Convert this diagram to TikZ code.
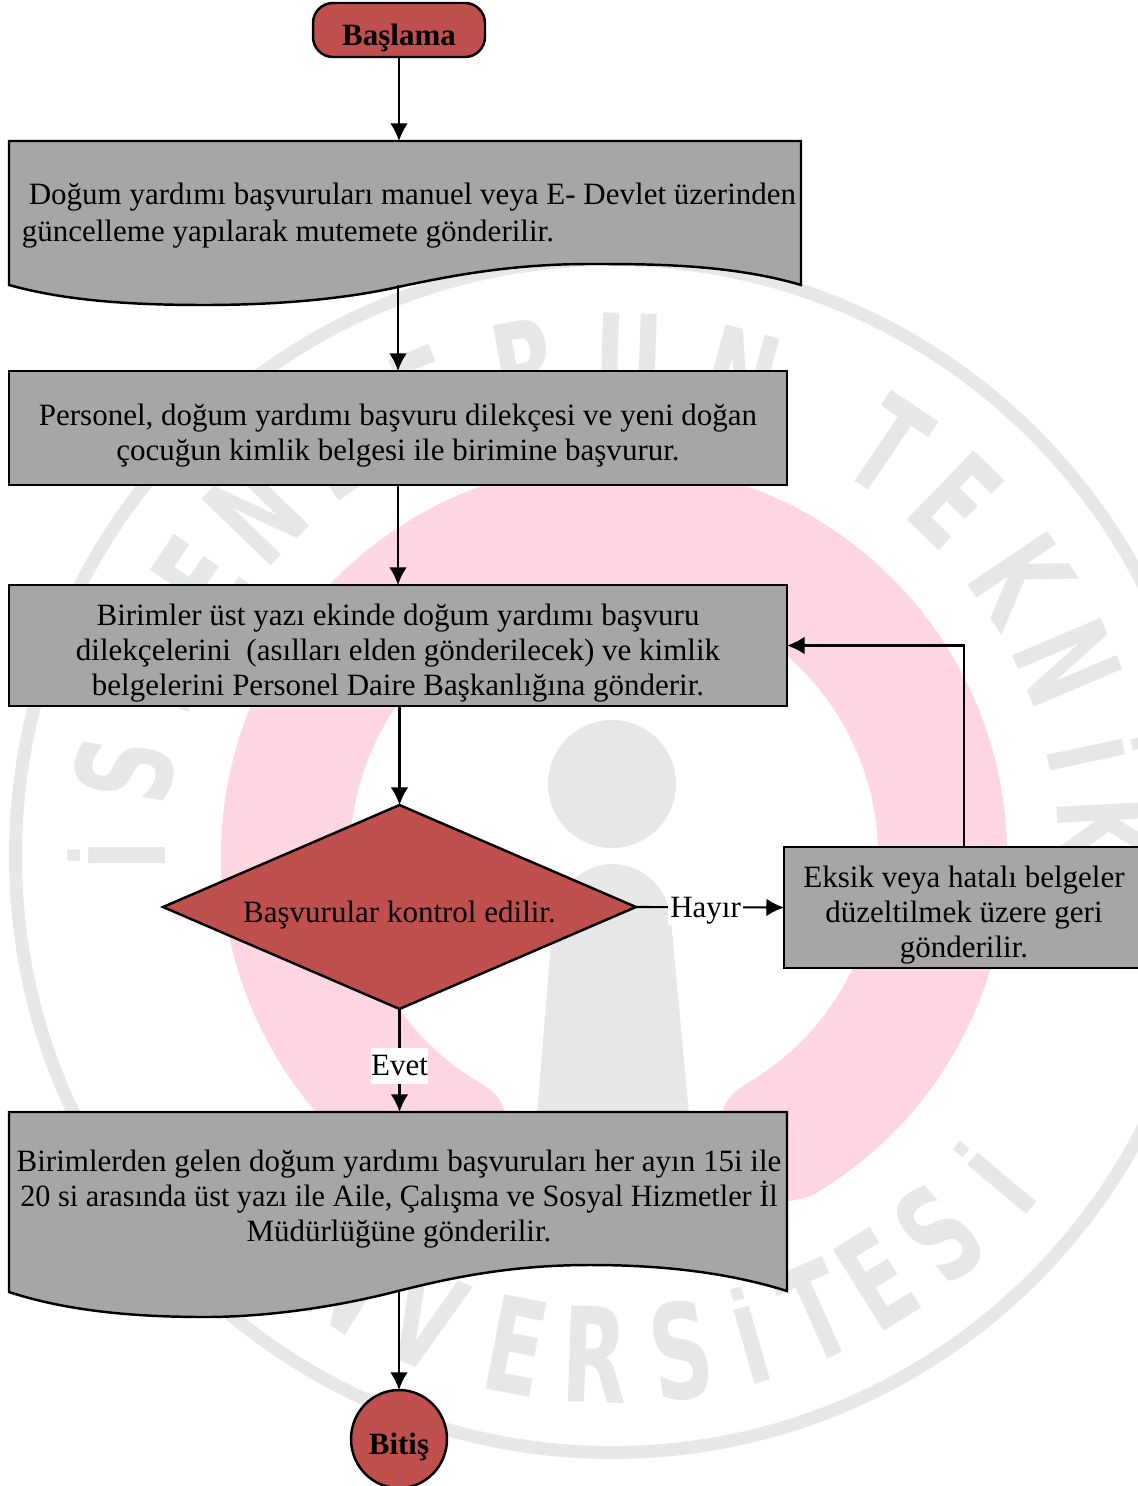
\documentclass[tikz,border=0pt]{standalone}
\usepackage{fontspec}
\setmainfont{Liberation Serif}
\newfontfamily\filigranfont{DejaVu Sans Condensed}
\usetikzlibrary{arrows.meta, calc, shapes.geometric}
\definecolor{kutugri}{HTML}{A6A6A6}
\definecolor{karmizi}{HTML}{C0504D}
\definecolor{pembe}{HTML}{FFD6E2}
\definecolor{filigri}{HTML}{E6E8E8}
\newcommand{\dikey}[1]{\rule{0pt}{#1}}
\newcommand{\noktaliI}{\scalebox{1}[.8]{İ}}
\tikzset{
	kutu/.style={rectangle, draw=black, line width=1.4pt, fill=kutugri, inner sep=0pt, outer sep=0pt, align=center},
	belge/.style={rectangle, inner sep=0pt, outer sep=0pt, align=center},
	belgekenar/.style={draw=black, line width=1.4pt, fill=kutugri, line join=miter},
	ok/.style={-{Latex[length=10pt,width=10pt]}, line width=1.2pt},
	etiket/.style={fill=white, inner sep=0pt},
	harf/.style={inner sep=0pt, text=filigri, text height=54pt, text depth=0pt, font=\filigranfont\bfseries\fontsize{75}{75}\selectfont},
}
\begin{document}
\begin{tikzpicture}[x=0.02cm, y=-0.02cm, line cap=butt, font=\fontsize{17.65}{19.84}\selectfont]
\useasboundingbox (0,0) rectangle (1138,1486);

%========================
% Watermark
%========================
\begin{scope}[shift={(612,856)}, y=0.02cm]
	% grey outer ring
	\draw[filigri, line width=7.4pt] (0,0) circle (596.5);
	% pink open ring
	\fill[pembe, shift={(2,0)}] (-60:393)
	arc[start angle=-60, end angle=240, radius=393]
	-- (-112,-320) -- (-109,-262)
	.. controls (-109,-248) and (-118,-236) .. (-132,-228)
	arc[start angle=240, end angle=-60, radius=264]
	.. controls (118,-236) and (108,-248) .. (108,-262)
	.. controls (108,-330) and (160,-345) .. (176,-345) -- cycle;
	% person
	\fill[filigri] (0,72) circle (64);
	\fill[filigri] (-82,-344) -- (-60,-74) .. controls (-56,-29) and (-27,-8) .. (0,-8)
	.. controls (28,-8) and (56,-29) .. (59,-64) -- (85,-344) -- cycle;
	% letters, tops outwards
	\foreach \h/\a in {\noktaliI/180,S/170,K/158,E/146,N/136,D/124,E/112,R/100,U/88,N/75,T/56,E/46,K/34,N/23,\noktaliI/12,K/3}
	\node[harf, name=ust\a, rotate=\a-90] at (\a:494) {\scalebox{.72}[1]{\h}};
	% letters, tops inwards
	\foreach \h/\a in {Ü/-132,N/-122,\noktaliI/-40,S/-49,E/-58,T/-66,\noktaliI/-74,S/-82,R/-92,E/-101,V/-112}
	\node[harf, name=alt\a, rotate=\a+90] at (\a:500) {\scalebox{.72}[1]{\h}};
\end{scope}

%========================
% Flow boxes
%========================
\node[kutu, fill=karmizi, rounded corners=0.4cm, minimum width=3.44cm, minimum height=1.08cm, font=\fontsize{17.65}{19.84}\selectfont\bfseries] (baslama) at (399,30) {\dikey{21pt}Başlama};

% document shape with wavy bottom
\path[belgekenar] (9,141) -- (801,141) -- (801,285)
.. controls (730,264) and (650,264) .. (590,264)
.. controls (510,264) and (450,276) .. (398,287)
.. controls (340,300) and (270,305) .. (205,305)
.. controls (140,305) and (70,302) .. (9,285) -- cycle;
\node[belge, minimum width=15.84cm, minimum height=2.88cm, align=left] (guncelleme) at (405,213)
{\dikey{15pt}\hspace*{8.5pt}Doğum yardımı başvuruları manuel veya E- Devlet üzerinden\\[1.2pt]\hspace*{4.5pt}güncelleme yapılarak mutemete gönderilir.};

\node[kutu, minimum width=15.56cm, minimum height=2.28cm] (dilekce) at (398,428)
{\dikey{21pt}Personel, doğum yardımı başvuru dilekçesi ve yeni doğan\\çocuğun kimlik belgesi ile birimine başvurur.};

\node[kutu, minimum width=15.56cm, minimum height=2.42cm] (birimler) at (398,645.5)
{\dikey{21pt}Birimler üst yazı ekinde doğum yardımı başvuru\\dilekçelerini~ (asılları elden gönderilecek) ve kimlik\\belgelerini Personel Daire Başkanlığına gönderir.};

\node[kutu, diamond, fill=karmizi, aspect=2.3, minimum width=9.46cm, minimum height=4.08cm] (kontrol) at (399.5,907)
{\dikey{21pt}Başvurular kontrol edilir.};

\node[kutu, minimum width=7.2cm, minimum height=2.42cm] (eksik) at (964,907.5)
{\dikey{21pt}Eksik veya hatalı belgeler\\düzeltilmek üzere geri\\gönderilir.};

\path[belgekenar] (9,1112) -- (787,1112) -- (787,1291)
.. controls (720,1270) and (650,1265) .. (590,1265)
.. controls (510,1265) and (450,1278) .. (398,1291)
.. controls (340,1306) and (270,1317) .. (205,1317)
.. controls (140,1317) and (70,1312) .. (9,1292) -- cycle;
\node[belge, minimum width=15.56cm, minimum height=3.6cm] (mudurluk) at (399,1202)
{\dikey{23pt}Birimlerden gelen doğum yardımı başvuruları her ayın 15i ile\\\scalebox{.975}[1]{20 si arasında üst yazı ile Aile, Çalışma ve Sosyal Hizmetler İl}\\Müdürlüğüne gönderilir.\\[-2pt]};

\node[kutu, ellipse, fill=karmizi, minimum width=1.92cm, minimum height=1.96cm, font=\fontsize{17.65}{19.84}\selectfont\bfseries] (bitis) at (399,1439) {\dikey{21pt}Bitiş};

%========================
% Connectors
%========================
\draw[ok] (baslama.south) -- (baslama.south |- guncelleme.north);
\draw[ok] (dilekce.north |- guncelleme.south) -- (dilekce.north);
\draw[ok] (dilekce) -- (birimler);
\draw[ok] (kontrol.north |- birimler.south) -- (kontrol.north);
\draw[ok] (kontrol.east) -- node[etiket, pos=.47, minimum width=1.5cm, minimum height=.6cm] (hayir) {\dikey{16pt}Hayır} (eksik.west);
\draw[ok] (eksik.north) |- (birimler.east);
\draw[ok] (kontrol.south) -- node[etiket, pos=.55, minimum width=1.12cm, minimum height=.72cm] (evet) {Evet} (kontrol.south |- mudurluk.north);
\draw[ok] (mudurluk.south -| bitis.north) -- (bitis.north);
\end{tikzpicture}
\end{document}
